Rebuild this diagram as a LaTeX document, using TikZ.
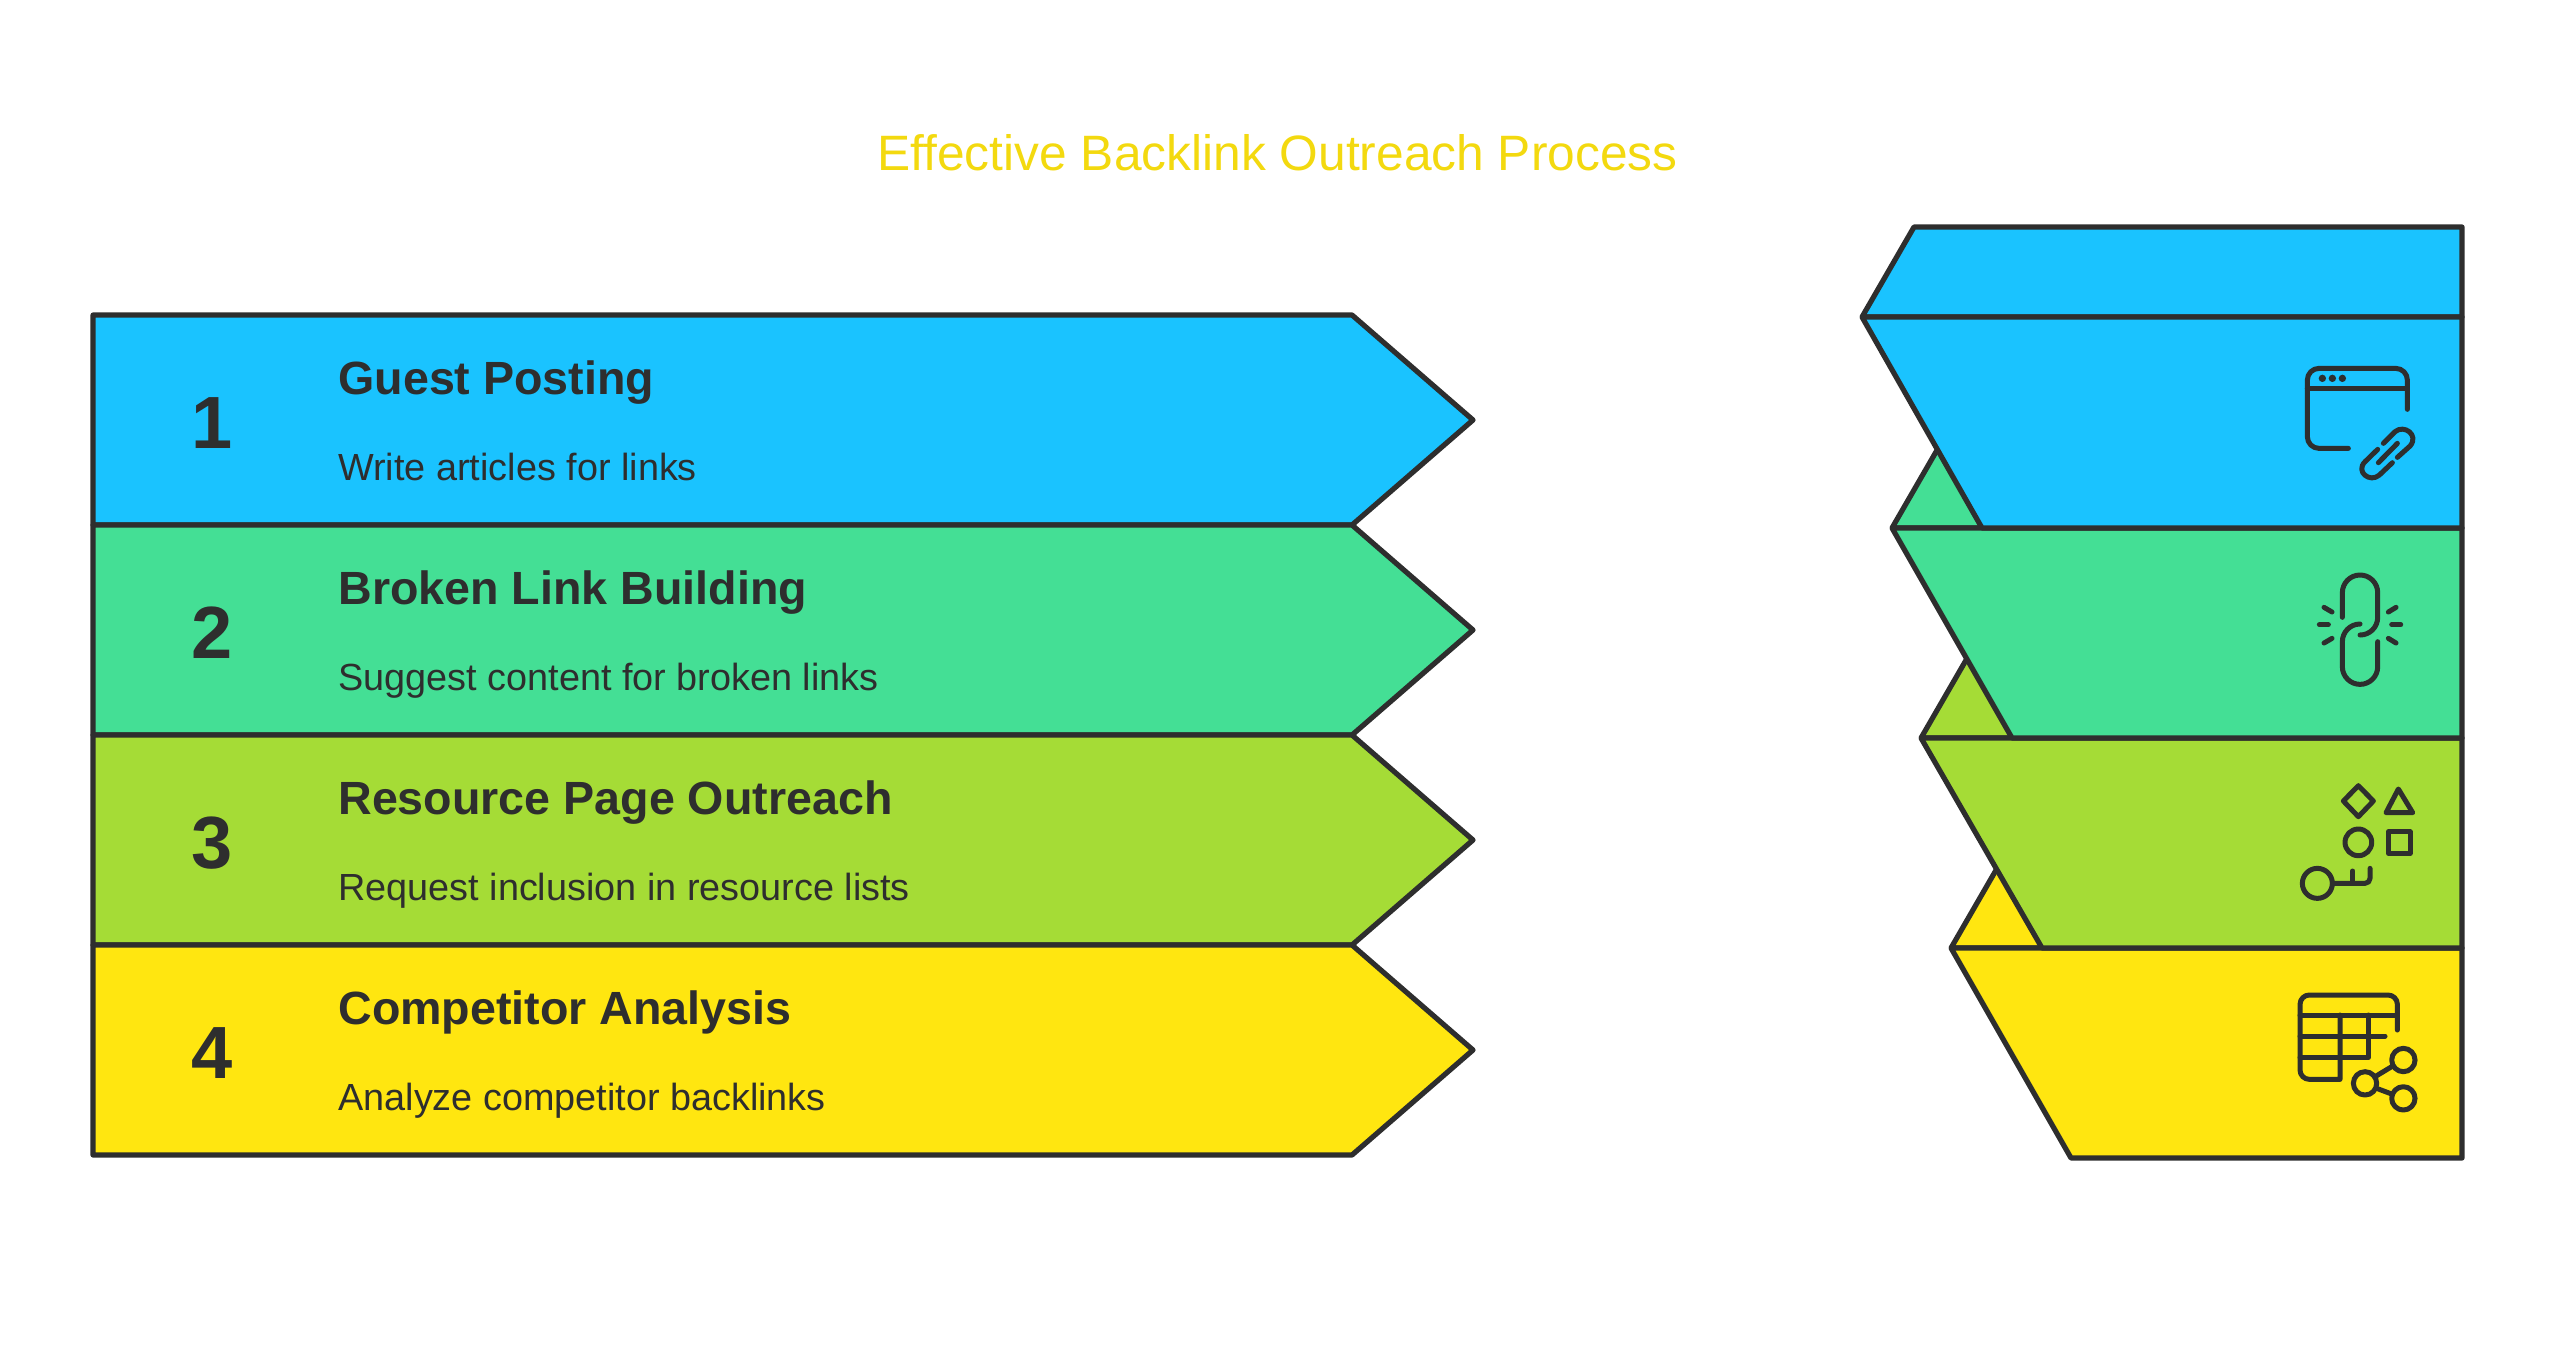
\documentclass[tikz,border=0pt]{standalone}
\usepackage{fontspec}
\setmainfont{Liberation Sans}
\definecolor{inkdark}{HTML}{2E2E2E}
\definecolor{bandblue}{HTML}{1AC3FF}
\definecolor{bandgreen}{HTML}{44DF95}
\definecolor{bandlime}{HTML}{A5DC36}
\definecolor{bandyellow}{HTML}{FFE610}
\definecolor{titleyellow}{HTML}{F3D90F}
\tikzset{
	band/.style={draw=inkdark, line width=2.6pt, line join=round},
	icon/.style={draw=inkdark, line width=2.5pt, line cap=round, line join=round},
	number/.style={anchor=base, inner sep=0pt, text=inkdark, font=\fontsize{37}{37}\selectfont\bfseries},
	heading/.style={anchor=base west, inner sep=0pt, text=inkdark, font=\fontsize{23.3}{23.3}\selectfont\bfseries},
	descr/.style={anchor=base west, inner sep=0pt, text=inkdark, font=\fontsize{18.9}{18.9}\selectfont},
}
\begin{document}
\begin{tikzpicture}[x=0.5pt, y=-0.5pt]
	\useasboundingbox (0, 0) rectangle (2555, 1355);
	% Title
	\node[anchor=base, inner sep=0pt, text=titleyellow, font=\fontsize{24.85}{24.85}\selectfont] (title) at (1277.5, 170) {Effective Backlink Outreach Process};
	% Left arrows
	\draw[band, fill=bandblue] (93, 315) -- (1352, 315) -- (1473, 420) -- (1352, 525) -- (93, 525) -- cycle;
	\draw[band, fill=bandgreen] (93, 525) -- (1352, 525) -- (1473, 630) -- (1352, 735) -- (93, 735) -- cycle;
	\draw[band, fill=bandlime] (93, 735) -- (1352, 735) -- (1473, 840) -- (1352, 945) -- (93, 945) -- cycle;
	\draw[band, fill=bandyellow] (93, 945) -- (1352, 945) -- (1473, 1050) -- (1352, 1155) -- (93, 1155) -- cycle;
	% Numbers
	\node[number] (num1) at (212, 448) {1};
	\node[number] (num2) at (212, 658) {2};
	\node[number] (num3) at (212, 868) {3};
	\node[number] (num4) at (212, 1078) {4};
	% Headings
	\node[heading] (head1) at (338, 394) {Guest Posting};
	\node[heading] (head2) at (338, 604) {Broken Link Building};
	\node[heading] (head3) at (338, 814) {Resource Page Outreach};
	\node[heading] (head4) at (338, 1024) {Competitor Analysis};
	% Descriptions
	\node[descr] (desc1) at (338, 480) {Write articles for links};
	\node[descr] (desc2) at (338, 690) {Suggest content for broken links};
	\node[descr] (desc3) at (338, 900) {Request inclusion in resource lists};
	\node[descr] (desc4) at (338, 1110) {Analyze competitor backlinks};
	% Right stack, lowest band first
	\draw[band, fill=bandyellow] (1951, 948) -- (2003, 858) -- (2200, 858) -- (2200, 948) -- cycle;
	\draw[band, fill=bandyellow] (1951, 948) -- (2462, 948) -- (2462, 1158) -- (2071, 1158) -- cycle;
	\draw[band, fill=bandlime] (1921, 738) -- (1973, 648) -- (2200, 648) -- (2200, 738) -- cycle;
	\draw[band, fill=bandlime] (1921, 738) -- (2462, 738) -- (2462, 948) -- (2042, 948) -- cycle;
	\draw[band, fill=bandgreen] (1892, 528) -- (1944, 438) -- (2200, 438) -- (2200, 528) -- cycle;
	\draw[band, fill=bandgreen] (1892, 528) -- (2462, 528) -- (2462, 738) -- (2012, 738) -- cycle;
	\draw[band, fill=bandblue] (1862, 317) -- (1914, 227) -- (2462, 227) -- (2462, 317) -- cycle;
	\draw[band, fill=bandblue] (1862, 317) -- (2462, 317) -- (2462, 528) -- (1982, 528) -- cycle;
	% Window with clip
	\begin{scope}[shift={(2260, 340)}, x=0.1667pt, y=-0.1667pt]
		\draw[icon] (442, 208) -- (442, 120) arc[start angle=0, end angle=-90, radius=35] -- (177, 85) arc[start angle=-90, end angle=-180, radius=35] -- (142, 290) arc[start angle=180, end angle=90, radius=35] -- (265, 325);
		\draw[icon] (142, 145) -- (442, 145);
		\fill[inkdark] (187, 115) circle[radius=11];
		\fill[inkdark] (217, 115) circle[radius=11];
		\fill[inkdark] (247, 115) circle[radius=11];
		\draw[icon] (370, 310) -- (405, 275) .. controls (432, 252) and (478, 285) .. (450, 318) -- (412, 352);
		\draw[icon] (397, 368) -- (358, 405) .. controls (330, 430) and (285, 395) .. (315, 365) -- (353, 328);
		\draw[icon] (355, 368) -- (412, 310);
	\end{scope}
	% Broken link
	\begin{scope}[shift={(2290, 560)}, x=0.1667pt, y=-0.1667pt]
		\draw[icon] (157, 172) -- (157, 98) arc[start angle=180, end angle=360, radius=53] -- (263, 172) arc[start angle=0, end angle=90, radius=53];
		\draw[icon] (210, 192) arc[start angle=270, end angle=180, radius=53] -- (157, 320) arc[start angle=180, end angle=0, radius=53] -- (263, 245);
		\draw[icon] (88, 194) -- (115, 194);
		\draw[icon] (102, 142) -- (126, 156);
		\draw[icon] (102, 249) -- (126, 235);
		\draw[icon] (305, 194) -- (332, 194);
		\draw[icon] (318, 142) -- (295, 156);
		\draw[icon] (318, 249) -- (295, 235);
	\end{scope}
	% Shapes with key
	\begin{scope}[shift={(2260, 770)}, x=0.1667pt, y=-0.1667pt]
		\draw[icon] (295, 47) -- (340, 93) -- (295, 140) -- (250, 93) -- cycle;
		\draw[icon] (415, 57) -- (458, 128) -- (378, 128) -- cycle;
		\draw[icon] (295, 217) circle[radius=40];
		\draw[icon] (385, 185) rectangle (450, 250);
		\draw[icon] (172, 340) circle[radius=45];
		\draw[icon] (217, 340) -- (315, 340) arc[start angle=90, end angle=0, radius=15] -- (330, 295);
		\draw[icon] (278, 340) -- (278, 303);
	\end{scope}
	% Table with share
	\begin{scope}[shift={(2280, 980)}, x=0.1667pt, y=-0.1667pt]
		\draw[icon] (352, 150) -- (352, 73) arc[start angle=0, end angle=-90, radius=28] -- (88, 45) arc[start angle=-90, end angle=-180, radius=28] -- (60, 270) arc[start angle=180, end angle=90, radius=28] -- (180, 298) -- (180, 105);
		\draw[icon] (60, 105) -- (352, 105);
		\draw[icon] (60, 168) -- (315, 168);
		\draw[icon] (60, 232) -- (265, 232) -- (265, 105);
		\draw[icon] (255, 310) circle[radius=35];
		\draw[icon] (370, 240) circle[radius=35];
		\draw[icon] (370, 355) circle[radius=35];
		\draw[icon] (285, 290) -- (338, 258);
		\draw[icon] (290, 325) -- (335, 342);
	\end{scope}
\end{tikzpicture}
\end{document}
